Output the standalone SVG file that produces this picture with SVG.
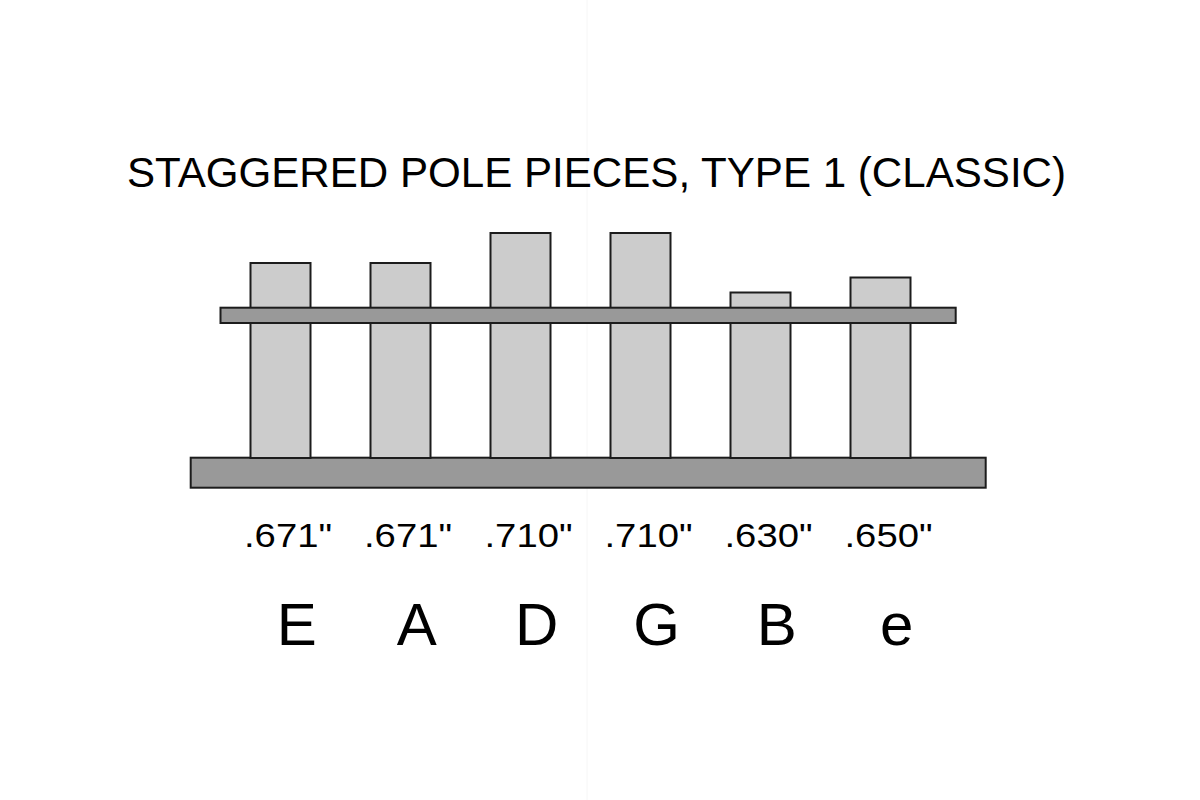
<svg xmlns="http://www.w3.org/2000/svg" width="1200" height="800" viewBox="0 0 1200 800">
<style>
.pole{fill:#cccccc;stroke:#1c1c1c;stroke-width:2}
.bar{fill:#999999;stroke:#1c1c1c;stroke-width:2}
.t{font-family:"Liberation Sans",Arial,sans-serif;fill:#000}
.m{text-anchor:middle}
.num{font-size:32.5px}
.str{font-size:60px}
</style>
<rect width="1200" height="800" fill="#ffffff"/>
<line x1="587" y1="0" x2="587" y2="800" stroke="#f6f6f6" stroke-width="1"/>
<text class="t" x="127" y="187" font-size="43.3" textLength="939" lengthAdjust="spacingAndGlyphs">STAGGERED POLE PIECES, TYPE 1 (CLASSIC)</text>
<g id="base"><rect class="bar" x="190.7" y="457.7" width="795" height="30"/></g>
<g id="pole-E"><rect class="pole" x="250.5" y="263" width="60" height="195"/></g>
<g id="pole-A"><rect class="pole" x="370.5" y="263" width="60" height="195"/></g>
<g id="pole-D"><rect class="pole" x="490.5" y="233" width="60" height="225"/></g>
<g id="pole-G"><rect class="pole" x="610.5" y="233" width="60" height="225"/></g>
<g id="pole-B"><rect class="pole" x="730.5" y="292.5" width="60" height="165.5"/></g>
<g id="pole-e"><rect class="pole" x="850.5" y="277.5" width="60" height="180.5"/></g>
<g id="cover"><rect class="bar" x="220.5" y="307.7" width="735.2" height="15.3"/></g>
<g id="labels">
<text class="t m num" x="288" y="546.5" textLength="88" lengthAdjust="spacingAndGlyphs">.671"</text>
<text class="t m num" x="408" y="546.5" textLength="88" lengthAdjust="spacingAndGlyphs">.671"</text>
<text class="t m num" x="528.5" y="546.5" textLength="88" lengthAdjust="spacingAndGlyphs">.710"</text>
<text class="t m num" x="648.5" y="546.5" textLength="88" lengthAdjust="spacingAndGlyphs">.710"</text>
<text class="t m num" x="768.5" y="546.5" textLength="88" lengthAdjust="spacingAndGlyphs">.630"</text>
<text class="t m num" x="888.5" y="546.5" textLength="88" lengthAdjust="spacingAndGlyphs">.650"</text>
<text class="t m str" x="296.7" y="645">E</text>
<text class="t m str" x="416.7" y="645">A</text>
<text class="t m str" x="536.7" y="645">D</text>
<text class="t m str" x="656.7" y="645">G</text>
<text class="t m str" x="776.7" y="645">B</text>
<text class="t m str" x="896.7" y="645">e</text>
</g>
</svg>
